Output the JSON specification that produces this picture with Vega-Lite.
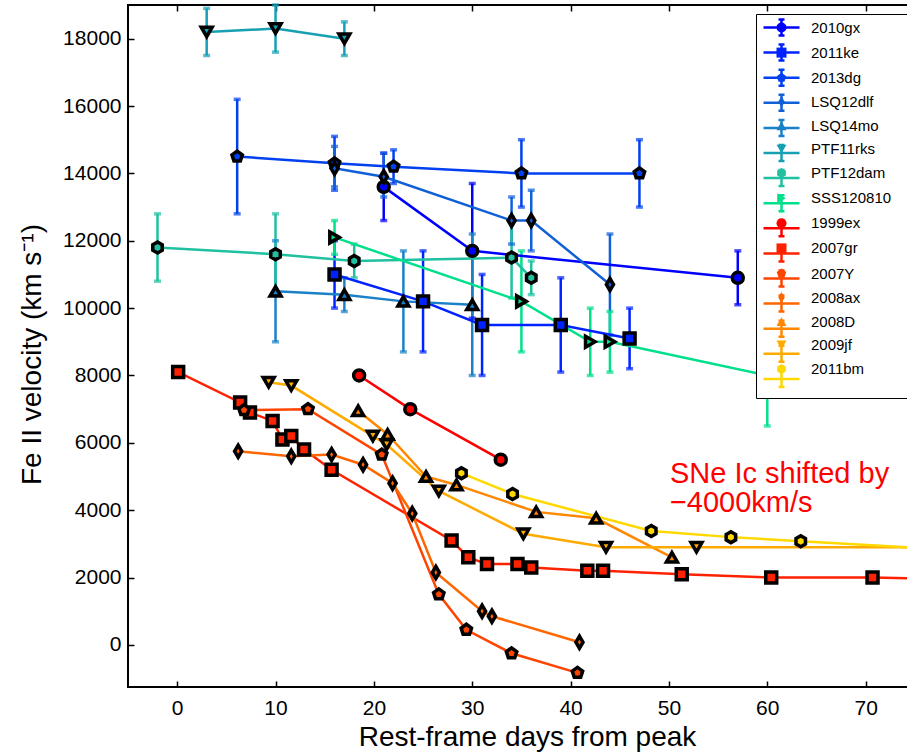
{
  "$schema": "https://vega.github.io/schema/vega-lite/v6.json",
  "autosize": {"type": "none"},
  "padding": {"left": 128, "top": 5, "right": 0, "bottom": 65},
  "width": 836,
  "height": 682,
  "config": {
    "view": {"stroke": "black", "strokeWidth": 2},
    "font": "Liberation Sans",
    "axis": {"grid": false, "domain": false, "tickColor": "black", "tickWidth": 1.5, "labelColor": "black", "titleColor": "black", "titleFontWeight": "normal", "labelFont": "Liberation Sans", "titleFont": "Liberation Sans"}
  },
  "datasets": {
    "vel": [
      {"sn": "2010gx", "day": 21, "v": 13600, "lo": 12600, "hi": 14600},
      {"sn": "2010gx", "day": 30, "v": 11700, "lo": 9700, "hi": 13700},
      {"sn": "2010gx", "day": 57, "v": 10900, "lo": 10100, "hi": 11700},
      {"sn": "2011ke", "day": 16, "v": 11000, "lo": 10000, "hi": 12000},
      {"sn": "2011ke", "day": 25, "v": 10200, "lo": 8700, "hi": 11700},
      {"sn": "2011ke", "day": 31, "v": 9500, "lo": 8000, "hi": 11000},
      {"sn": "2011ke", "day": 39, "v": 9500, "lo": 8100, "hi": 10900},
      {"sn": "2011ke", "day": 46, "v": 9100, "lo": 8200, "hi": 10000},
      {"sn": "2013dg", "day": 6.1, "v": 14500, "lo": 12800, "hi": 16200},
      {"sn": "2013dg", "day": 16, "v": 14300, "lo": 13500, "hi": 15100},
      {"sn": "2013dg", "day": 22, "v": 14200, "lo": 13700, "hi": 14700},
      {"sn": "2013dg", "day": 35, "v": 14000, "lo": 13000, "hi": 15000},
      {"sn": "2013dg", "day": 47, "v": 14000, "lo": 13000, "hi": 15000},
      {"sn": "LSQ12dlf", "day": 16, "v": 14150, "lo": 13600, "hi": 14800},
      {"sn": "LSQ12dlf", "day": 21, "v": 13900, "lo": 13300, "hi": 14600},
      {"sn": "LSQ12dlf", "day": 34, "v": 12600, "lo": 11900, "hi": 13300},
      {"sn": "LSQ12dlf", "day": 36, "v": 12600, "lo": 11700, "hi": 13500},
      {"sn": "LSQ12dlf", "day": 44, "v": 10700, "lo": 9200, "hi": 12200},
      {"sn": "LSQ14mo", "day": 10, "v": 10500, "lo": 9000, "hi": 12000},
      {"sn": "LSQ14mo", "day": 17, "v": 10400, "lo": 9900, "hi": 10900},
      {"sn": "LSQ14mo", "day": 23, "v": 10200, "lo": 8700, "hi": 11700},
      {"sn": "LSQ14mo", "day": 30, "v": 10100, "lo": 8000, "hi": 12200},
      {"sn": "PTF11rks", "day": 3, "v": 18200, "lo": 17500, "hi": 18900},
      {"sn": "PTF11rks", "day": 10, "v": 18300, "lo": 17600, "hi": 19000},
      {"sn": "PTF11rks", "day": 17, "v": 18000, "lo": 17500, "hi": 18500},
      {"sn": "PTF12dam", "day": -2, "v": 11800, "lo": 10800, "hi": 12800},
      {"sn": "PTF12dam", "day": 10, "v": 11600, "lo": 10400, "hi": 12800},
      {"sn": "PTF12dam", "day": 18, "v": 11400, "lo": 10900, "hi": 11900},
      {"sn": "PTF12dam", "day": 34, "v": 11500, "lo": 10300, "hi": 12700},
      {"sn": "PTF12dam", "day": 36, "v": 10900, "lo": 10400, "hi": 11400},
      {"sn": "SSS120810", "day": 16, "v": 12100, "lo": 11600, "hi": 12600},
      {"sn": "SSS120810", "day": 35, "v": 10200, "lo": 8700, "hi": 11700},
      {"sn": "SSS120810", "day": 42, "v": 9000, "lo": 8000, "hi": 10000},
      {"sn": "SSS120810", "day": 44, "v": 9000, "lo": 8100, "hi": 9900},
      {"sn": "SSS120810", "day": 60, "v": 8000, "lo": 6500, "hi": 9500},
      {"sn": "1999ex", "day": 18.5, "v": 8000},
      {"sn": "1999ex", "day": 23.7, "v": 7000},
      {"sn": "1999ex", "day": 32.9, "v": 5500},
      {"sn": "2007gr", "day": 0.1, "v": 8100},
      {"sn": "2007gr", "day": 6.4, "v": 7200},
      {"sn": "2007gr", "day": 7.4, "v": 6900},
      {"sn": "2007gr", "day": 9.7, "v": 6650},
      {"sn": "2007gr", "day": 10.7, "v": 6100},
      {"sn": "2007gr", "day": 11.6, "v": 6200},
      {"sn": "2007gr", "day": 12.9, "v": 5800},
      {"sn": "2007gr", "day": 15.7, "v": 5200},
      {"sn": "2007gr", "day": 27.9, "v": 3100},
      {"sn": "2007gr", "day": 29.6, "v": 2600},
      {"sn": "2007gr", "day": 31.5, "v": 2400},
      {"sn": "2007gr", "day": 34.6, "v": 2400},
      {"sn": "2007gr", "day": 36, "v": 2300},
      {"sn": "2007gr", "day": 41.7, "v": 2200},
      {"sn": "2007gr", "day": 43.3, "v": 2200},
      {"sn": "2007gr", "day": 51.3, "v": 2100},
      {"sn": "2007gr", "day": 60.4, "v": 2000},
      {"sn": "2007gr", "day": 70.7, "v": 2000},
      {"sn": "2007gr", "day": 80, "v": 1950},
      {"sn": "2007Y", "day": 6.8, "v": 6970},
      {"sn": "2007Y", "day": 13.3, "v": 7000},
      {"sn": "2007Y", "day": 20.8, "v": 5650},
      {"sn": "2007Y", "day": 26.6, "v": 1500},
      {"sn": "2007Y", "day": 29.4, "v": 450},
      {"sn": "2007Y", "day": 34, "v": -250},
      {"sn": "2007Y", "day": 40.7, "v": -830},
      {"sn": "2008ax", "day": 6.2, "v": 5750},
      {"sn": "2008ax", "day": 11.6, "v": 5600},
      {"sn": "2008ax", "day": 15.7, "v": 5650},
      {"sn": "2008ax", "day": 18.9, "v": 5350},
      {"sn": "2008ax", "day": 21.9, "v": 4800},
      {"sn": "2008ax", "day": 23.9, "v": 3900},
      {"sn": "2008ax", "day": 26.3, "v": 2150},
      {"sn": "2008ax", "day": 31, "v": 1000},
      {"sn": "2008ax", "day": 32, "v": 850},
      {"sn": "2008ax", "day": 40.9, "v": 80},
      {"sn": "2008D", "day": 18.4, "v": 6950},
      {"sn": "2008D", "day": 21.4, "v": 6250},
      {"sn": "2008D", "day": 25.3, "v": 5000},
      {"sn": "2008D", "day": 28.4, "v": 4750},
      {"sn": "2008D", "day": 36.5, "v": 3950},
      {"sn": "2008D", "day": 42.6, "v": 3760},
      {"sn": "2008D", "day": 50.3, "v": 2600},
      {"sn": "2009jf", "day": 9.3, "v": 7800},
      {"sn": "2009jf", "day": 11.6, "v": 7700},
      {"sn": "2009jf", "day": 19.9, "v": 6200},
      {"sn": "2009jf", "day": 21.3, "v": 5950},
      {"sn": "2009jf", "day": 26.6, "v": 4570},
      {"sn": "2009jf", "day": 35.2, "v": 3300},
      {"sn": "2009jf", "day": 43.6, "v": 2900},
      {"sn": "2009jf", "day": 52.8, "v": 2900},
      {"sn": "2009jf", "day": 80, "v": 2900},
      {"sn": "2011bm", "day": 28.9, "v": 5100},
      {"sn": "2011bm", "day": 34.1, "v": 4480},
      {"sn": "2011bm", "day": 48.2, "v": 3380},
      {"sn": "2011bm", "day": 56.3, "v": 3200},
      {"sn": "2011bm", "day": 63.4, "v": 3080},
      {"sn": "2011bm", "day": 80, "v": 2800}
    ],
    "note": [
      {"day": 50.1, "v": 4800, "label": "SNe Ic shifted by\n−4000km/s"}
    ]
  },
  "data": {"name": "vel"},
  "layer": [
    {
      "transform": [{"filter": "isValid(datum.lo)"}],
      "mark": {"type": "rule", "strokeWidth": 2.5},
      "encoding": {
        "x": {"field": "day", "type": "quantitative", "scale": {"domain": [-5, 80], "nice": false, "zero": false},
          "axis": {"orient": "bottom", "values": [0, 10, 20, 30, 40, 50, 60, 70], "tickSize": -6, "labelPadding": 16, "labelFontSize": 21,
            "title": "Rest-frame days from peak", "titleFontSize": 28, "titleX": 399, "titleY": 58, "titleBaseline": "alphabetic"}},
        "y": {"field": "lo", "type": "quantitative", "scale": {"domain": [-1250, 19000], "nice": false, "zero": false},
          "axis": {"orient": "left", "values": [0, 2000, 4000, 6000, 8000, 10000, 12000, 14000, 16000, 18000], "format": "d", "tickSize": -6, "labelPadding": 13, "labelFontSize": 21,
            "title": "Fe II velocity (km s⁻¹)", "titleFontSize": 28, "titleX": -88, "titleY": 349, "titleBaseline": "alphabetic", "titleAngle": 270}},
        "y2": {"field": "hi"},
        "stroke": {"field": "sn", "type": "nominal",
          "sort": ["2010gx", "2011ke", "2013dg", "LSQ12dlf", "LSQ14mo", "PTF11rks", "PTF12dam", "SSS120810", "1999ex", "2007gr", "2007Y", "2008ax", "2008D", "2009jf", "2011bm"]}
      }
    },
    {
      "transform": [{"filter": "isValid(datum.lo)"}],
      "mark": {"type": "tick", "orient": "horizontal", "size": 7, "thickness": 3.5},
      "encoding": {
        "x": {"field": "day", "type": "quantitative",
          "axis": {"orient": "top", "values": [0, 10, 20, 30, 40, 50, 60, 70], "tickSize": -6, "labels": false, "title": null}},
        "y": {"field": "lo", "type": "quantitative",
          "axis": {"orient": "right", "values": [0, 2000, 4000, 6000, 8000, 10000, 12000, 14000, 16000, 18000], "tickSize": -6, "labels": false, "title": null}},
        "color": {"field": "sn", "type": "nominal", "legend": null,
          "scale": {"domain": ["2010gx", "2011ke", "2013dg", "LSQ12dlf", "LSQ14mo", "PTF11rks", "PTF12dam", "SSS120810", "1999ex", "2007gr", "2007Y", "2008ax", "2008D", "2009jf", "2011bm"],
            "range": ["#0000ff", "#0022ff", "#0040f0", "#1060d8", "#1a80c8", "#17a0b4", "#20c0a0", "#00e08a", "#ff0000", "#ff2200", "#ff4400", "#ff6600", "#ff8800", "#ffaa00", "#ffd800"]}}
      }
    },
    {
      "transform": [{"filter": "isValid(datum.hi)"}],
      "mark": {"type": "tick", "orient": "horizontal", "size": 7, "thickness": 3.5},
      "encoding": {
        "x": {"field": "day", "type": "quantitative", "axis": null},
        "y": {"field": "hi", "type": "quantitative", "axis": null},
        "color": {"field": "sn", "type": "nominal", "legend": null}
      }
    },
    {
      "mark": {"type": "line", "strokeWidth": 2.5},
      "encoding": {
        "x": {"field": "day", "type": "quantitative", "axis": null},
        "y": {"field": "v", "type": "quantitative", "axis": null},
        "stroke": {"field": "sn", "type": "nominal",
          "sort": ["2010gx", "2011ke", "2013dg", "LSQ12dlf", "LSQ14mo", "PTF11rks", "PTF12dam", "SSS120810", "1999ex", "2007gr", "2007Y", "2008ax", "2008D", "2009jf", "2011bm"],
          "scale": {"range": ["#0000ff", "#0022ff", "#0040f0", "#1060d8", "#1a80c8", "#17a0b4", "#20c0a0", "#00e08a", "#ff0000", "#ff2200", "#ff4400", "#ff6600", "#ff8800", "#ffaa00", "#ffd800"]},
          "legend": {"orient": "none", "legendX": 628, "legendY": 9, "title": null,
            "symbolType": "M-3.6,0H3.6M0,-1.6V1.6M-0.6,-1.6H0.6M-0.6,1.6H0.6",
            "symbolSize": 100, "symbolStrokeWidth": 2.5,
            "labelExpr": "''", "labelFontSize": 15,
            "padding": 6, "rowPadding": -1.9, "symbolOffset": 12, "labelOffset": 140,
            "fillColor": "white", "strokeColor": "black", "zindex": 1}}
      }
    },
    {
      "mark": {"type": "point", "filled": true, "size": 120, "stroke": "black", "strokeWidth": 3.5, "opacity": 1},
      "encoding": {
        "x": {"field": "day", "type": "quantitative", "axis": null},
        "y": {"field": "v", "type": "quantitative", "axis": null},
        "fill": {"field": "sn", "type": "nominal", "sort": null,
          "scale": {"range": ["#0000ff", "#0022ff", "#0040f0", "#1060d8", "#1a80c8", "#17a0b4", "#20c0a0", "#00e08a", "#ff0000", "#ff2200", "#ff4400", "#ff6600", "#ff8800", "#ffaa00", "#ffd800"]},
          "legend": {"orient": "none", "legendX": 628, "legendY": 9, "title": null,
            "symbolSize": 100, "symbolStrokeColor": "black", "symbolStrokeWidth": 3.5,
            "labelFont": "Liberation Sans", "labelFontSize": 15, "labelColor": "black",
            "padding": 6, "rowPadding": 0.1, "symbolOffset": 12, "labelOffset": 22, "zindex": 2}},
        "shape": {"field": "sn", "type": "nominal", "sort": null,
          "scale": {"range": ["circle", "square", "M0,-1L0.951,-0.309L0.588,0.809L-0.588,0.809L-0.951,-0.309Z", "M0,-1.1L0.65,0L0,1.1L-0.65,0Z", "triangle-up", "triangle-down", "M0,-1L0.866,-0.5L0.866,0.5L0,1L-0.866,0.5L-0.866,-0.5Z", "triangle-right",
            "circle", "square", "M0,-1L0.951,-0.309L0.588,0.809L-0.588,0.809L-0.951,-0.309Z", "M0,-1.1L0.65,0L0,1.1L-0.65,0Z", "triangle-up", "triangle-down", "M0,-1L0.866,-0.5L0.866,0.5L0,1L-0.866,0.5L-0.866,-0.5Z"]},
          "legend": {"orient": "none", "legendX": 628, "legendY": 9, "title": null,
            "symbolSize": 100, "symbolStrokeColor": "black", "symbolStrokeWidth": 3.5,
            "labelFont": "Liberation Sans", "labelFontSize": 15, "labelColor": "black",
            "padding": 6, "rowPadding": 0.1, "symbolOffset": 12, "labelOffset": 22, "zindex": 2}}
      }
    },
    {
      "data": {"name": "note"},
      "mark": {"type": "text", "align": "left", "baseline": "alphabetic", "fontSize": 29, "lineHeight": 29, "lineBreak": "\n", "color": "#ff0000", "font": "Liberation Sans"},
      "encoding": {
        "x": {"field": "day", "type": "quantitative", "axis": null},
        "y": {"field": "v", "type": "quantitative", "axis": null},
        "text": {"field": "label"}
      }
    }
  ],
  "resolve": {"axis": {"x": "independent", "y": "independent"}}
}
